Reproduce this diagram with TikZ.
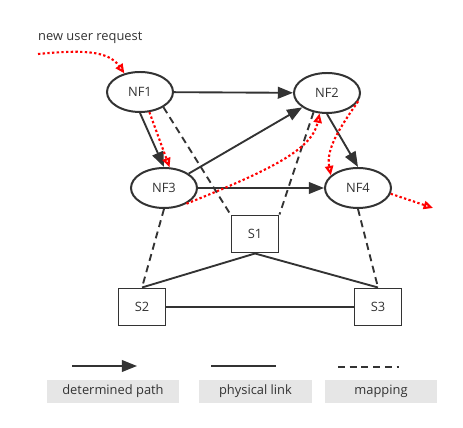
\documentclass[tikz,border=0pt]{standalone}
\usepackage{fontspec}
\setmainfont{Open Sans}
\usetikzlibrary{arrows.meta,shapes.geometric}
\definecolor{ink}{HTML}{333333}
\definecolor{legendgray}{HTML}{E6E6E6}

\begin{document}
\begin{tikzpicture}[
    x=0.03cm, y=-0.03cm,
    font=\fontsize{11}{13}\selectfont,
    nf/.style={draw=ink, ellipse, line width=1.7pt, minimum width=1.98cm, minimum height=1.2cm, inner sep=0pt, text=ink},
    sw/.style={draw=ink, rectangle, line width=1.7pt, minimum width=1.41cm, minimum height=1.11cm, inner sep=0pt, text=ink},
    route/.style={-{Triangle[length=13pt, width=10pt]}, draw=ink, line width=1.6pt},
    link/.style={draw=ink, line width=1.6pt},
    mapping/.style={draw=ink, line width=1.6pt, dash pattern=on 6pt off 4pt},
    request/.style={draw=red, line width=1.8pt, dash pattern=on 2pt off 2pt, -{Triangle[open, length=8pt, width=7pt]}},
    legend/.style={fill=legendgray, text=ink, minimum height=0.69cm, inner sep=0pt}
  ]
    \useasboundingbox (0,0) rectangle (463,428);

    \node[nf] (nf1) at (140,92) {NF1};
    \node[nf] (nf2) at (327,93) {NF2};
    \node[nf] (nf3) at (164,188) {NF3};
    \node[nf] (nf4) at (358,188) {NF4};
    \node[sw] (s1) at (255,234) {S1};
    \node[sw] (s2) at (142,307) {S2};
    \node[sw] (s3) at (378,307) {S3};

    % determined path
    \draw[route] (nf1) -- (nf2);
    \draw[route] (nf1.south) -- (nf3.north);
    \draw[route] (nf3) -- (nf2);
    \draw[route] (nf3) -- (nf4);
    \draw[route] (nf2.south) -- (nf4.north);

    % mapping
    \draw[mapping] (nf1.-33) -- (s1.north west);
    \draw[mapping] (nf2.-125) -- (s1.north east);
    \draw[mapping] (nf3.south) -- (s2.north);
    \draw[mapping] (nf4.south) -- (s3.north);

    % physical links
    \draw[link] (s1.south) -- (s2.north);
    \draw[link] (s1.south) -- (s3.north);
    \draw[link] (s2) -- (s3);

    % new user request
    \node[anchor=west, inner sep=0pt, text=ink] (req) at (38,38) {new user request};
    \coordinate (reqstart) at (38,54);
    \coordinate (reqend) at (433,208);
    \draw[request] (reqstart) .. controls (80,50) and (108,50) .. (nf1.130);
    \draw[request] (nf1.-65) -- (nf3.75);
    \draw[request] (nf3.-35) .. controls (270,170) and (312,150) .. (nf2.-110);
    \draw[request] (nf2.-15) .. controls (338,130) and (326,150) .. (nf4.155);
    \draw[request] (nf4.-10) -- (reqend);

    % legend
    \coordinate (la) at (72,366);
    \coordinate (lb) at (137,366);
    \coordinate (lc) at (211,366);
    \coordinate (ld) at (276,366);
    \coordinate (le) at (338,367);
    \coordinate (lf) at (399,367);
    \draw[route] (la) -- (lb);
    \draw[link] (lc) -- (ld);
    \draw[mapping] (le) -- (lf);
    \node[legend, minimum width=3.96cm] (lab1) at (113,391.5) {determined path};
    \node[legend, minimum width=3.39cm] (lab2) at (255.5,391.5) {physical link};
    \node[legend, minimum width=3.36cm] (lab3) at (381,391.5) {mapping};
  \end{tikzpicture}
\end{document}
